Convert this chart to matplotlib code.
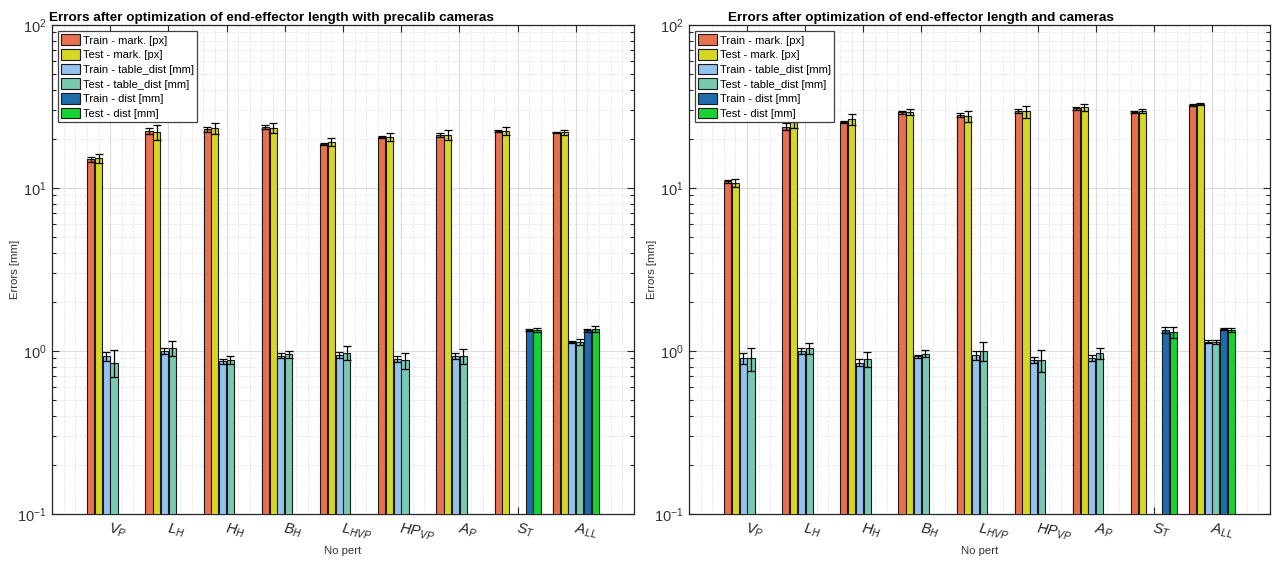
import matplotlib
import matplotlib.pyplot as plt
import numpy as np
from matplotlib.ticker import FixedLocator, LogLocator, NullFormatter

matplotlib.use("Agg")

plt.rcParams["font.family"] = ["Liberation Sans", "DejaVu Sans"]
plt.rcParams["mathtext.fontset"] = "custom"
plt.rcParams["mathtext.rm"] = "Liberation Sans"
plt.rcParams["mathtext.it"] = "Liberation Sans:italic"
plt.rcParams["mathtext.bf"] = "Liberation Sans:bold"

nan = np.nan

# --- Data ---
categories = [r"$V_P$", r"$L_H$", r"$H_H$", r"$B_H$", r"$L_{HVP}$",
              r"$HP_{VP}$", r"$A_P$", r"$S_T$", r"$A_{LL}$"]
series_labels = ["Train - mark. [px]", "Test - mark. [px]",
                 "Train - table_dist [mm]", "Test - table_dist [mm]",
                 "Train - dist [mm]", "Test - dist [mm]"]
series_colors = ["#E8704E", "#D6D624", "#94C2EE", "#78C8B2", "#1E6CAC", "#16D232"]

# precalib cameras
pre_train_mark = [15.0, 22.5, 22.9, 23.6, 18.6, 20.5, 21.2, 22.4, 22.0]
pre_train_mark_err = [0.6, 1.0, 0.8, 0.6, 0.3, 0.3, 0.5, 0.4, 0.2]
pre_test_mark = [15.2, 22.1, 23.2, 23.4, 19.2, 20.6, 21.2, 22.5, 22.0]
pre_test_mark_err = [1.0, 2.4, 1.8, 1.6, 1.0, 1.2, 1.4, 1.3, 0.8]
pre_train_table = [0.93, 1.00, 0.865, 0.936, 0.95, 0.897, 0.936, nan, 1.135]
pre_train_table_err = [0.06, 0.04, 0.03, 0.03, 0.04, 0.04, 0.04, nan, 0.02]
pre_test_table = [0.85, 1.04, 0.88, 0.954, 0.976, 0.877, 0.93, nan, 1.14]
pre_test_table_err = [0.16, 0.11, 0.05, 0.05, 0.10, 0.10, 0.10, nan, 0.05]
pre_train_dist = [nan, nan, nan, nan, nan, nan, nan, 1.34, 1.34]
pre_train_dist_err = [nan, nan, nan, nan, nan, nan, nan, 0.02, 0.03]
pre_test_dist = [nan, nan, nan, nan, nan, nan, nan, 1.35, 1.36]
pre_test_dist_err = [nan, nan, nan, nan, nan, nan, nan, 0.04, 0.06]

# cameras optimized too
cam_train_mark = [11.0, 23.8, 25.5, 29.1, 28.0, 29.8, 30.8, 29.2, 32.3]
cam_train_mark_err = [0.2, 1.2, 0.4, 0.7, 0.8, 0.8, 0.6, 0.5, 0.3]
cam_test_mark = [10.8, 25.5, 26.5, 29.3, 27.5, 29.5, 31.2, 29.7, 32.6]
cam_test_mark_err = [0.6, 2.0, 2.0, 1.4, 2.0, 2.5, 1.5, 1.0, 0.5]
cam_train_table = [0.90, 1.00, 0.848, 0.93, 0.94, 0.88, 0.91, nan, 1.14]
cam_train_table_err = [0.07, 0.04, 0.04, 0.02, 0.06, 0.04, 0.04, nan, 0.02]
cam_test_table = [0.90, 1.04, 0.89, 0.963, 1.00, 0.88, 0.967, nan, 1.14]
cam_test_table_err = [0.15, 0.08, 0.09, 0.05, 0.13, 0.14, 0.07, nan, 0.03]
cam_train_dist = [nan, nan, nan, nan, nan, nan, nan, 1.345, 1.36]
cam_train_dist_err = [nan, nan, nan, nan, nan, nan, nan, 0.05, 0.02]
cam_test_dist = [nan, nan, nan, nan, nan, nan, nan, 1.31, 1.35]
cam_test_dist_err = [nan, nan, nan, nan, nan, nan, nan, 0.10, 0.04]

panels = [
    ("Errors after optimization of end-effector length with precalib cameras", 0.377,
     [pre_train_mark, pre_test_mark, pre_train_table, pre_test_table, pre_train_dist, pre_test_dist],
     [pre_train_mark_err, pre_test_mark_err, pre_train_table_err, pre_test_table_err,
      pre_train_dist_err, pre_test_dist_err]),
    ("Errors after optimization of end-effector length and cameras", 0.40,
     [cam_train_mark, cam_test_mark, cam_train_table, cam_test_table, cam_train_dist, cam_test_dist],
     [cam_train_mark_err, cam_test_mark_err, cam_train_table_err, cam_test_table_err,
      cam_train_dist_err, cam_test_dist_err]),
]

AX_COLOR = "#262626"
fig = plt.figure(figsize=(12.74, 5.61), dpi=100)
ax_rects = [[0.0408, 0.0838, 0.4568, 0.8716], [0.5408, 0.0838, 0.4561, 0.8716]]

x = np.arange(1, len(categories) + 1)
n_series = len(series_labels)
slot = 0.8 / n_series

for rect, (title, title_x, values, errors) in zip(ax_rects, panels):
    ax = fig.add_axes(rect)
    for i in range(n_series):
        offs = x + (i - (n_series - 1) / 2) * slot
        ax.bar(offs, values[i], width=slot * 0.92, bottom=0.0,
               color=series_colors[i], edgecolor="#1a1a1a", linewidth=0.8,
               label=series_labels[i], zorder=3)
        ax.errorbar(offs, values[i], yerr=errors[i], fmt="none", ecolor="black",
                    elinewidth=0.9, capsize=2.6, capthick=0.9, zorder=4)

    ax.set_yscale("log")
    ax.set_ylim(0.1, 100)
    ax.set_xlim(0, 10)
    ax.set_xticks(x)
    ax.set_xticklabels(categories, rotation=-10, ha="left", rotation_mode="anchor",
                       fontsize=10.5, color="#333333")
    ax.xaxis.set_minor_locator(FixedLocator(np.arange(0, 10.01, 0.2)))
    ax.yaxis.set_major_locator(LogLocator(base=10, numticks=10))
    ax.yaxis.set_minor_locator(LogLocator(base=10, subs=np.arange(2, 10), numticks=20))
    ax.yaxis.set_minor_formatter(NullFormatter())

    ax.grid(which="major", color="#dcdcdc", linewidth=0.8, linestyle="-", zorder=0)
    ax.grid(which="minor", color="#d0d0d0", linewidth=0.6, linestyle=(0, (1, 2)), zorder=0)
    ax.set_axisbelow(True)

    ax.tick_params(which="both", direction="in", top=True, right=True, colors=AX_COLOR,
                   labelsize=10.5, width=0.8)
    ax.tick_params(axis="y", which="major", length=5, pad=4, labelcolor="#333333")
    ax.tick_params(axis="y", which="minor", length=3)
    ax.tick_params(axis="x", which="major", length=5, pad=5)
    ax.tick_params(axis="x", which="minor", length=0)
    for sp in ax.spines.values():
        sp.set_color(AX_COLOR)
        sp.set_linewidth(0.9)

    ax.set_title(title, fontsize=9.7, fontweight="bold", pad=3, x=title_x)
    ax.set_xlabel("No pert", fontsize=8.2, color="#333333", labelpad=2)
    ax.set_ylabel("Errors [mm]", fontsize=8.2, color="#333333", labelpad=-2)

    leg = ax.legend(loc="upper left", fontsize=8.0, frameon=True, fancybox=False,
                    borderaxespad=0.55, handlelength=1.7, handleheight=1.1,
                    handletextpad=0.25, labelspacing=0.32, borderpad=0.3)
    leg.get_frame().set_edgecolor("#404040")
    leg.get_frame().set_linewidth(0.9)
    leg.get_frame().set_alpha(1.0)

fig.savefig("out.png", dpi=100)
